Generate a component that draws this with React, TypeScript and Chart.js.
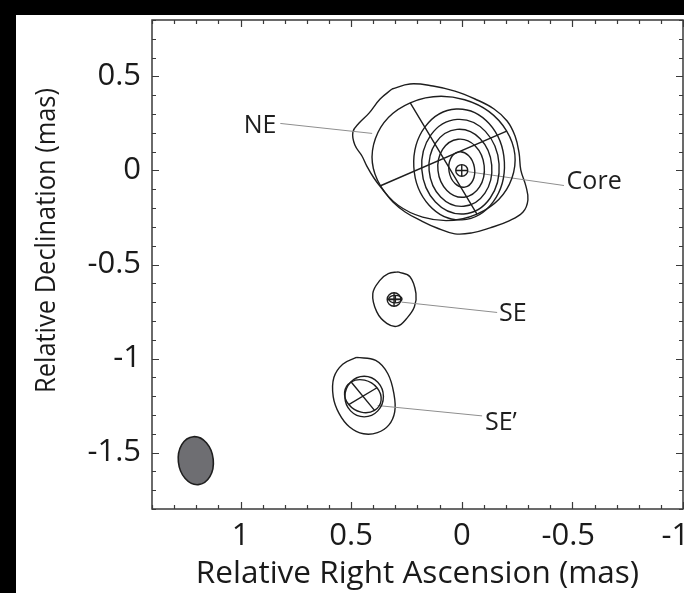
import React, { useEffect, useRef } from 'react';
import { Chart, registerables } from 'chart.js';

Chart.register(...registerables);

// Axis extents (mas). Right ascension grows to the left.
const X_MIN = -1.0;
const X_MAX = 1.4;
const Y_MIN = -1.8;
const Y_MAX = 0.8;
const X_TICKS = [-1, -0.5, 0, 0.5, 1];
const Y_TICKS = [-1.5, -1, -0.5, 0, 0.5];
const MINOR_STEP = 0.1;
const X_TITLE = 'Relative Right Ascension (mas)';
const Y_TITLE = 'Relative Declination (mas)';

// Irregular contour outlines, [RA offset, Dec offset] in mas
const CORE_OUTER_CONTOUR: [number, number][] = [
  [0.315, 0.433], [0.234, 0.46], [0.13, 0.449], [0.031, 0.422], [-0.06, 0.38],
  [-0.146, 0.327], [-0.205, 0.263], [-0.241, 0.183], [-0.259, 0.093], [-0.267, 0.002],
  [-0.29, -0.083], [-0.299, -0.157], [-0.277, -0.221], [-0.214, -0.268], [-0.128, -0.305],
  [-0.046, -0.332], [0.031, -0.337], [0.112, -0.306], [0.189, -0.264], [0.256, -0.221],
  [0.311, -0.168], [0.356, -0.104], [0.397, -0.04], [0.429, 0.023], [0.451, 0.077],
  [0.483, 0.135], [0.492, 0.204], [0.464, 0.252], [0.419, 0.305], [0.369, 0.38],
];
const SE_CONTOUR: [number, number][] = [
  [0.287, -0.539], [0.234, -0.565], [0.207, -0.654], [0.214, -0.725], [0.249, -0.787],
  [0.291, -0.828], [0.339, -0.813], [0.384, -0.752], [0.402, -0.654], [0.369, -0.583],
  [0.332, -0.548],
];
const SE2_CONTOUR: [number, number][] = [
  [0.476, -0.994], [0.389, -1.01], [0.334, -1.081], [0.306, -1.192], [0.303, -1.283],
  [0.33, -1.354], [0.381, -1.394], [0.444, -1.4], [0.507, -1.364], [0.554, -1.293],
  [0.581, -1.202], [0.578, -1.101], [0.538, -1.03],
];

// Near-elliptical contours: [RA, Dec, half-width, half-height (mas), tilt (deg)]
const CORE_RINGS: [number, number, number, number, number][] = [
  [0.0, 0.005, 0.058, 0.095, -10],
  [0.003, 0.012, 0.105, 0.155, -6],
  [0.006, 0.014, 0.142, 0.205, -5],
  [0.006, 0.02, 0.175, 0.252, -4],
  [0.012, 0.032, 0.205, 0.295, -3],
];
const SE2_RINGS: [number, number, number, number, number][] = [
  [0.441, -1.202, 0.087, 0.108, 0],
];

// Gaussian model components: RA, Dec, semi-major, semi-minor (mas), PA (deg)
const COMP_X = [0.0, 0.082, 0.306, 0.3, 0.447];
const COMP_Y = [0.0, 0.064, -0.686, -0.684, -1.2];
const COMP_MAJOR = [0.031, 0.332, 0.036, 0.03, 0.092];
const COMP_MINOR = [0.027, 0.32, 0.031, 0.02, 0.078];
const COMP_PA = [0, 27, 0, 90, 35];

// Restoring beam
const BEAM = { x: 1.202, y: -1.543, major: 0.128, minor: 0.079, pa: 5 };

// Component labels and their leader lines
const LABEL_TEXT = ['NE', 'Core', 'SE', 'SE\u2019'];
const LABEL_X = [0.838, -0.474, -0.168, -0.105];
const LABEL_Y = [0.236, -0.061, -0.762, -1.343];
const LABEL_ALIGN: CanvasTextAlign[] = ['right', 'left', 'left', 'left'];
const LEADERS: [number, number, number, number][] = [
  [0.82, 0.25, 0.405, 0.197],
  [-0.025, -0.006, -0.462, -0.08],
  [0.272, -0.7, -0.16, -0.755],
  [0.38, -1.25, -0.092, -1.305],
];

const FONT = '"Open Sans", sans-serif';
const INK = '#1e1e1e';
const TEXT = '#1a1a1a';

const closed = (pts: [number, number][]) =>
  [...pts, pts[0]].map(([x, y]) => ({ x, y }));

const contourSet = (pts: [number, number][]) => ({
  data: closed(pts),
  showLine: true,
  borderColor: INK,
  borderWidth: 1.4,
  pointRadius: 0,
  tension: 0.4,
  fill: false,
});

const leaderSet = (l: [number, number, number, number]) => ({
  data: [{ x: l[0], y: l[1] }, { x: l[2], y: l[3] }],
  showLine: true,
  borderColor: '#8e8e8e',
  borderWidth: 1,
  pointRadius: 0,
  tension: 0,
  fill: false,
});

function drawComponent(
  ctx: CanvasRenderingContext2D,
  px: (v: number) => number,
  py: (v: number) => number,
  cx: number, cy: number, major: number, minor: number, pa: number,
  fillColor: string | null, cross: boolean,
) {
  const X = px(cx);
  const Y = py(cy);
  const a = (pa * Math.PI) / 180;
  const b = a + Math.PI / 2;
  const ux = px(cx + major * Math.sin(a)) - X;
  const uy = py(cy + major * Math.cos(a)) - Y;
  const vx = px(cx + minor * Math.sin(b)) - X;
  const vy = py(cy + minor * Math.cos(b)) - Y;
  ctx.save();
  ctx.beginPath();
  ctx.transform(ux, uy, vx, vy, X, Y);
  ctx.arc(0, 0, 1, 0, Math.PI * 2);
  ctx.restore();
  if (fillColor) {
    ctx.fillStyle = fillColor;
    ctx.fill();
  }
  ctx.stroke();
  if (cross) {
    ctx.beginPath();
    ctx.moveTo(X - ux, Y - uy);
    ctx.lineTo(X + ux, Y + uy);
    ctx.moveTo(X - vx, Y - vy);
    ctx.lineTo(X + vx, Y + vy);
    ctx.stroke();
  }
}

const overlay = {
  id: 'mapOverlay',
  afterDatasetsDraw(chart: any) {
    const { ctx } = chart;
    const xs = chart.scales.x;
    const ys = chart.scales.y;
    const px = (v: number) => xs.getPixelForValue(v);
    const py = (v: number) => ys.getPixelForValue(v);
    ctx.save();
    ctx.strokeStyle = INK;
    ctx.lineWidth = 1.4;
    for (const [cx, cy, hw, hh, tilt] of [...CORE_RINGS, ...SE2_RINGS]) {
      const X = px(cx);
      const Y = py(cy);
      ctx.beginPath();
      ctx.ellipse(X, Y, Math.abs(px(cx + hw) - X), Math.abs(py(cy + hh) - Y),
        (tilt * Math.PI) / 180, 0, Math.PI * 2);
      ctx.stroke();
    }
    for (let i = 0; i < COMP_X.length; i++) {
      drawComponent(ctx, px, py, COMP_X[i], COMP_Y[i], COMP_MAJOR[i], COMP_MINOR[i], COMP_PA[i], null, true);
    }
    ctx.lineWidth = 1.6;
    drawComponent(ctx, px, py, BEAM.x, BEAM.y, BEAM.major, BEAM.minor, BEAM.pa, '#6e6e72', false);

    ctx.fillStyle = INK;
    ctx.font = `25px ${FONT}`;
    ctx.textBaseline = 'middle';
    for (let i = 0; i < LABEL_TEXT.length; i++) {
      ctx.textAlign = LABEL_ALIGN[i];
      ctx.fillText(LABEL_TEXT[i], px(LABEL_X[i]), py(LABEL_Y[i]));
    }
    ctx.restore();
  },
  afterDraw(chart: any) {
    const { ctx, chartArea: ca } = chart;
    const xs = chart.scales.x;
    const ys = chart.scales.y;
    ctx.save();
    ctx.strokeStyle = '#3a3a3a';
    ctx.lineWidth = 1.5;
    ctx.strokeRect(ca.left, ca.top, ca.right - ca.left, ca.bottom - ca.top);
    ctx.lineWidth = 1.2;
    ctx.beginPath();
    const nx = Math.round((X_MAX - X_MIN) / MINOR_STEP);
    for (let k = 0; k <= nx; k++) {
      const v = X_MIN + k * MINOR_STEP;
      const major = Math.abs(v * 2 - Math.round(v * 2)) < 1e-6;
      const len = major ? 7 : 4;
      const p = Math.round(xs.getPixelForValue(v)) + 0.5;
      ctx.moveTo(p, ca.bottom);
      ctx.lineTo(p, ca.bottom - len);
      ctx.moveTo(p, ca.top);
      ctx.lineTo(p, ca.top + len);
    }
    const ny = Math.round((Y_MAX - Y_MIN) / MINOR_STEP);
    for (let k = 0; k <= ny; k++) {
      const v = Y_MIN + k * MINOR_STEP;
      const major = Math.abs(v * 2 - Math.round(v * 2)) < 1e-6;
      const len = major ? 7 : 4;
      const p = Math.round(ys.getPixelForValue(v)) + 0.5;
      ctx.moveTo(ca.left, p);
      ctx.lineTo(ca.left + len, p);
      ctx.moveTo(ca.right, p);
      ctx.lineTo(ca.right - len, p);
    }
    ctx.stroke();

    // condensed, rotated declination title, set a little above the axis centre
    ctx.font = `28px ${FONT}`;
    ctx.fillStyle = TEXT;
    ctx.textAlign = 'center';
    ctx.textBaseline = 'middle';
    const w = ctx.measureText(Y_TITLE).width;
    ctx.translate(31, (ca.top + ca.bottom) / 2 - 24);
    ctx.rotate(-Math.PI / 2);
    ctx.scale(305 / w, 1);
    ctx.fillText(Y_TITLE, 0, 0);
    ctx.restore();
  },
};

const tickLabel = (value: number | string) => {
  const v = Number(value);
  return String(Math.round(v * 10) / 10);
};

// minus signs hang to the left of the centred number
const xTickLabel = (value: number | string) => {
  const v = Number(value);
  if (v <= X_MIN) return tickLabel(v) + '\u2002';
  if (v < 0) return tickLabel(v) + '\u2008';
  return tickLabel(v);
};

export default function App() {
  const canvasRef = useRef<HTMLCanvasElement>(null);

  useEffect(() => {
    const canvas = canvasRef.current;
    if (!canvas) return;
    const datasets: any[] = [
      ...LEADERS.map(leaderSet),
      contourSet(CORE_OUTER_CONTOUR),
      contourSet(SE_CONTOUR),
      contourSet(SE2_CONTOUR),
    ];
    const chart = new Chart(canvas, {
      type: 'scatter',
      data: { datasets },
      plugins: [overlay],
      options: {
        responsive: false,
        animation: false,
        devicePixelRatio: 1,
        events: [],
        layout: { padding: { left: 0, right: 33, top: 5, bottom: 0 } },
        plugins: { legend: { display: false }, tooltip: { enabled: false } },
        scales: {
          x: {
            type: 'linear',
            min: X_MIN,
            max: X_MAX,
            reverse: true,
            afterBuildTicks: (s: any) => { s.ticks = X_TICKS.map((v) => ({ value: v })); },
            afterFit: (s: any) => { s.height = 84; s.paddingLeft = 0; s.paddingRight = 0; },
            grid: { display: false, drawTicks: false },
            border: { display: false },
            ticks: {
              autoSkip: false,
              maxRotation: 0,
              padding: 9,
              color: TEXT,
              font: { family: FONT, size: 31 },
              callback: (v: any) => xTickLabel(v),
            },
            title: {
              display: true,
              text: X_TITLE,
              color: TEXT,
              font: { family: FONT, size: 31.5 },
              padding: { top: 0, bottom: 0 },
            },
          },
          y: {
            type: 'linear',
            min: Y_MIN,
            max: Y_MAX,
            afterBuildTicks: (s: any) => { s.ticks = Y_TICKS.map((v) => ({ value: v })); },
            afterFit: (s: any) => { s.width = 136; s.paddingTop = 0; s.paddingBottom = 0; },
            grid: { display: false, drawTicks: false },
            border: { display: false },
            ticks: {
              autoSkip: false,
              padding: 11,
              color: TEXT,
              font: { family: FONT, size: 31 },
              callback: (v: any) => tickLabel(v),
            },
            title: { display: false },
          },
        },
      } as any,
    });
    return () => chart.destroy();
  }, []);

  return (
    <div style={{ position: 'fixed', left: 0, top: 0, width: 684, height: 593, background: '#000', overflow: 'hidden' }}>
      <div style={{ position: 'absolute', left: 16, top: 15, width: 668, height: 578, background: '#fff', overflow: 'hidden' }}>
        <canvas ref={canvasRef} width={700} height={578} style={{ display: 'block', width: 700, height: 578 }} />
      </div>
    </div>
  );
}
